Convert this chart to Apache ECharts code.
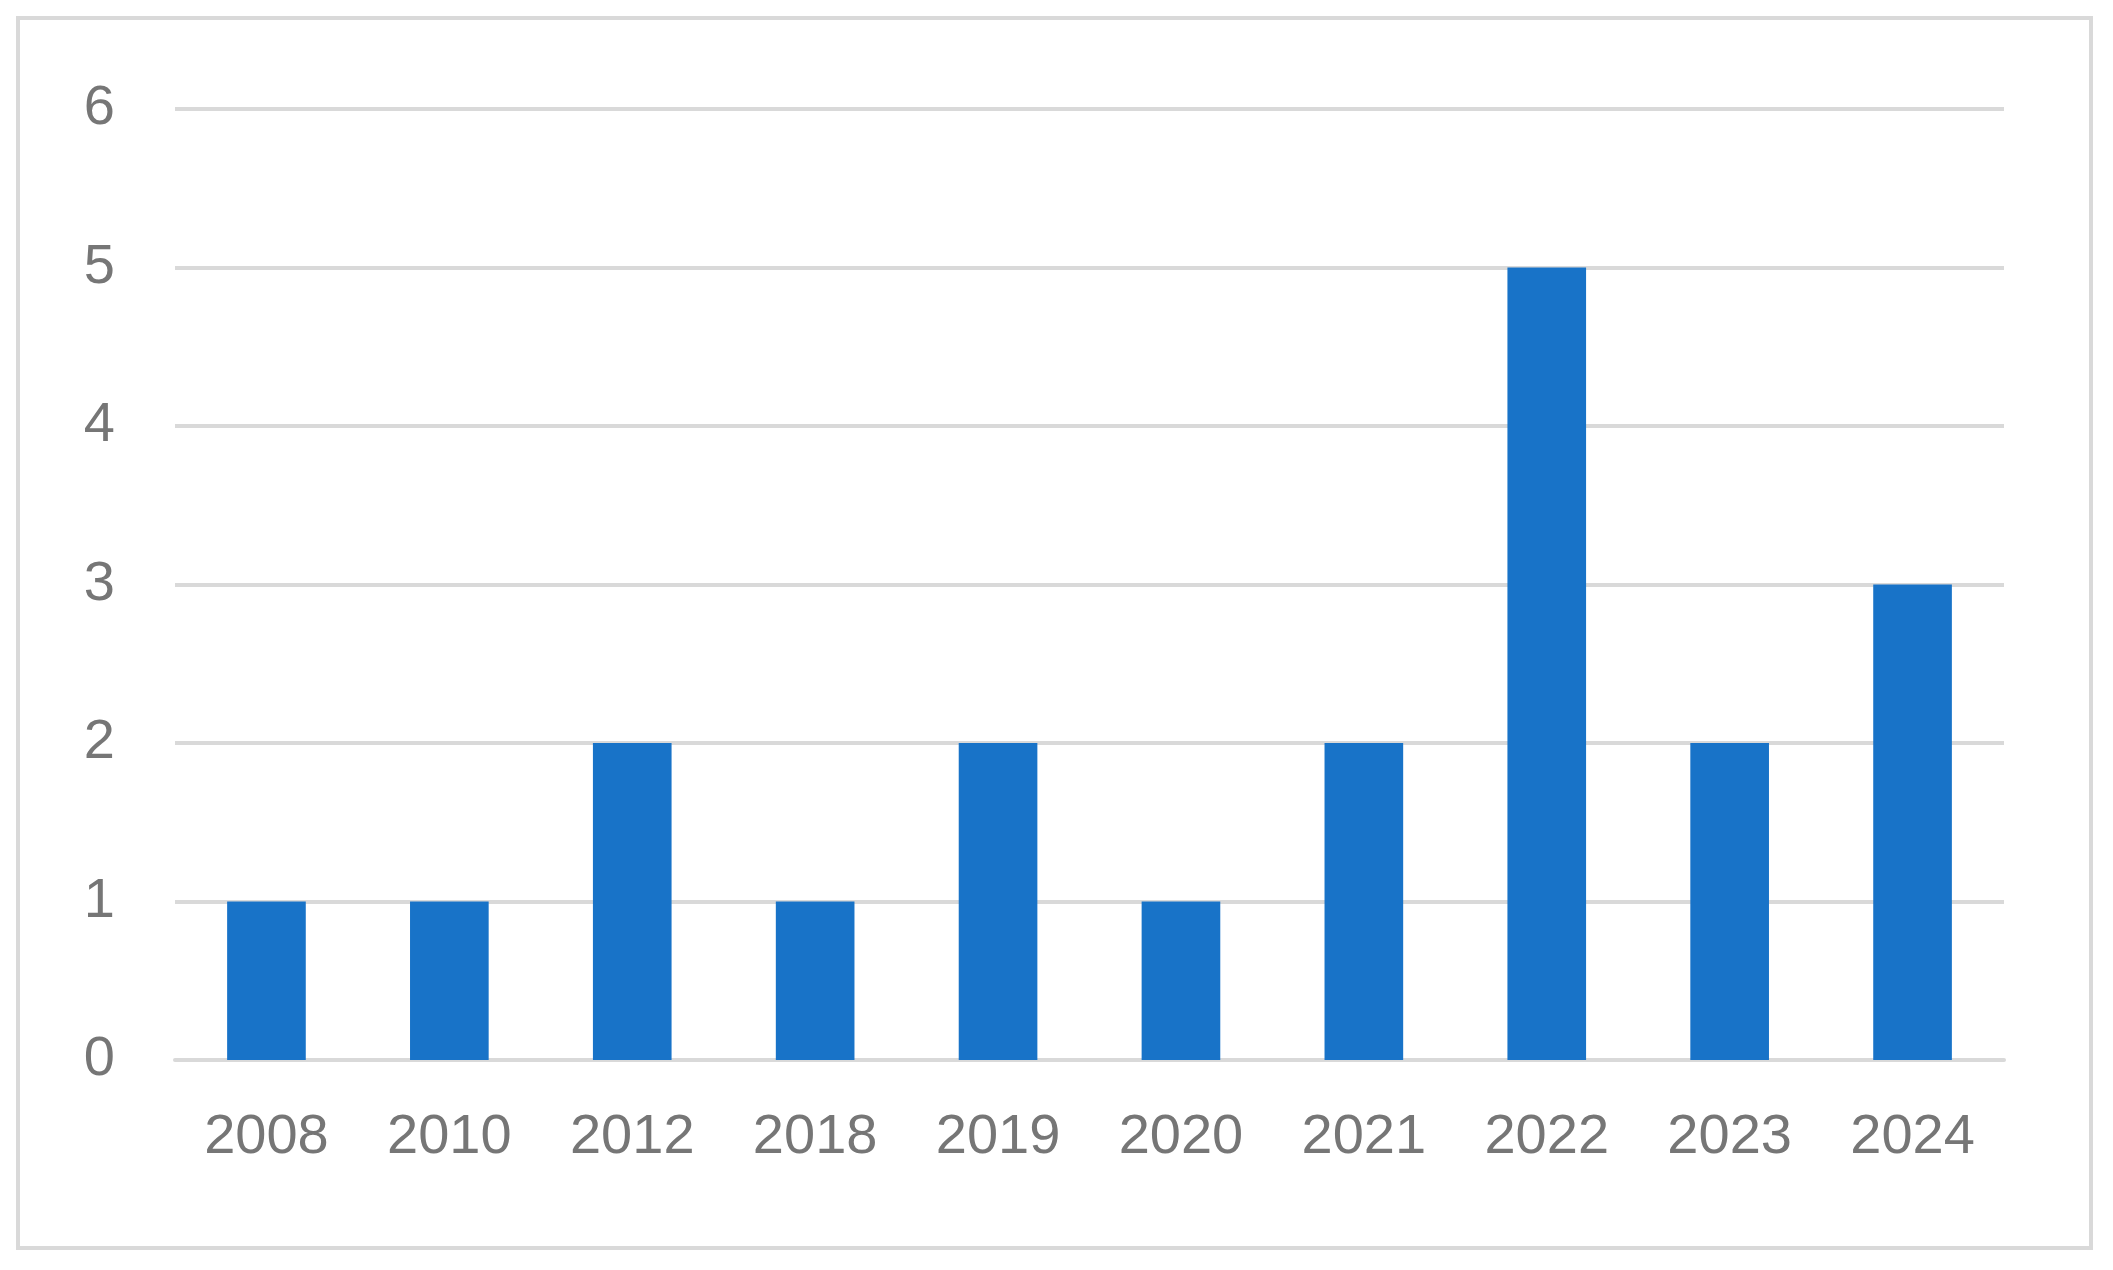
<!DOCTYPE html>
<html>
<head>
<meta charset="utf-8">
<script src="https://cdn.jsdelivr.net/npm/echarts@6/dist/echarts.min.js"></script>
<style>
html,body{margin:0;padding:0;background:#fff;}
#frame{position:absolute;left:16px;top:16px;width:2077px;height:1234px;border:4px solid #d9d9d9;box-sizing:border-box;}
#chart{width:2113px;height:1270px;}
</style>
</head>
<body>
<div id="frame"></div>
<div id="chart"></div>
<script>
var years = ['2008','2010','2012','2018','2019','2020','2021','2022','2023','2024'];
var counts = [1, 1, 2, 1, 2, 1, 2, 5, 2, 3];

var chart = echarts.init(document.getElementById('chart'));
chart.setOption({
    animation: false,
    grid: {left: 175, right: 109, top: 109, bottom: 210},
    xAxis: {
        type: 'category',
        data: years,
        axisLine: {lineStyle: {color: '#d9d9d9', width: 4}},
        axisTick: {show: false},
        axisLabel: {color: '#767676', fontSize: 56, fontFamily: 'Liberation Sans', margin: 50}
    },
    yAxis: {
        type: 'value',
        min: 0, max: 6, interval: 1,
        axisLine: {show: false},
        axisTick: {show: false},
        splitLine: {lineStyle: {color: '#d9d9d9', width: 4}},
        axisLabel: {color: '#767676', fontSize: 56, fontFamily: 'Liberation Sans', margin: 60}
    },
    series: [{
        type: 'bar',
        data: counts,
        barWidth: '43%',
        itemStyle: {color: '#1873c8'}
    }]
});
</script>
</body>
</html>
